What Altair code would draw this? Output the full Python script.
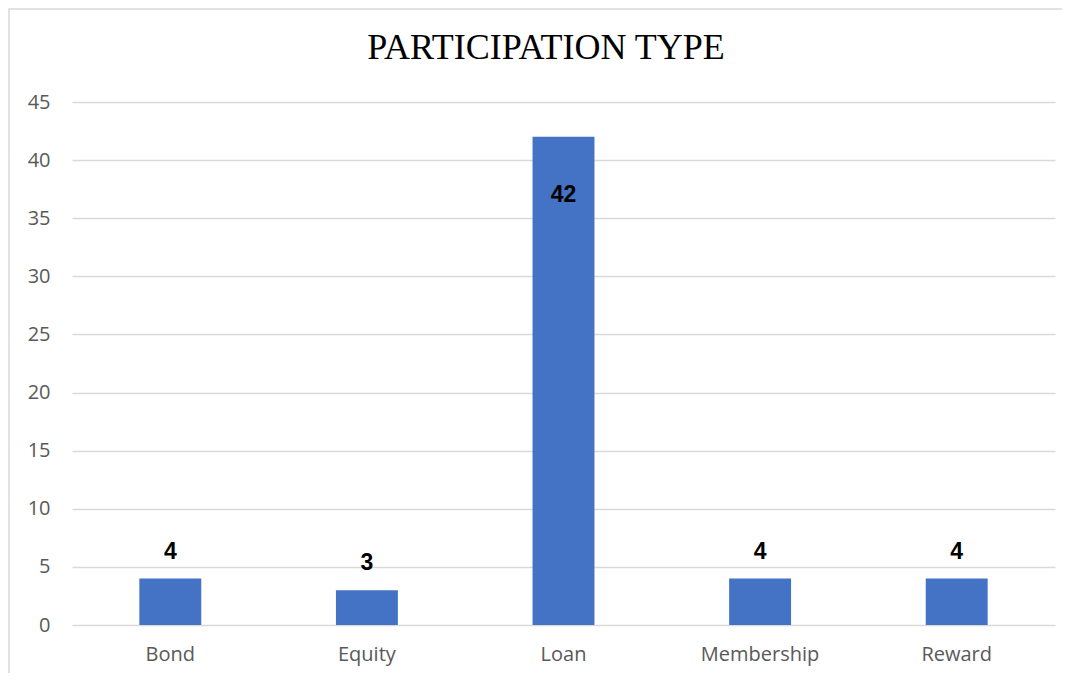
import altair as alt
import pandas as pd

categories = ["Bond", "Equity", "Loan", "Membership", "Reward"]
counts = [4, 3, 42, 4, 4]
title_text = "PARTICIPATION TYPE"

df = pd.DataFrame({"type": categories, "count": counts})

W, H = 983, 523

x_enc = alt.X("type:N", sort=categories, title=None,
              scale=alt.Scale(paddingInner=0.685, paddingOuter=0.3425),
              axis=alt.Axis(labelAngle=0, labelFont="Open Sans", labelFontSize=20,
                            labelColor="#595959", labelPadding=19, ticks=False,
                            domain=False, grid=False))
y_enc = alt.Y("count:Q", title=None,
              scale=alt.Scale(domain=[0, 45], nice=False),
              axis=alt.Axis(values=list(range(0, 50, 5)), labelFont="Open Sans",
                            labelFontSize=20, labelColor="#595959", labelPadding=22,
                            ticks=False, domain=False, grid=True,
                            gridColor="#d9d9d9", gridWidth=1.5))

base = alt.Chart(df)

bars = base.mark_bar(color="#4472C4").encode(x=x_enc, y=y_enc)

outside = base.transform_filter("datum.count < 40").mark_text(
    font="Liberation Sans", fontWeight="bold", fontSize=23, color="black",
    baseline="alphabetic", dy=-20).encode(
    x=alt.X("type:N", sort=categories), y="count:Q", text="count:Q")

inside = base.transform_filter("datum.count >= 40").mark_text(
    font="Liberation Sans", fontWeight="bold", fontSize=23, color="black",
    baseline="alphabetic", dy=65).encode(
    x=alt.X("type:N", sort=categories), y="count:Q", text="count:Q")

title = alt.Chart(pd.DataFrame({"t": [title_text]})).mark_text(
    font="Liberation Serif", fontSize=36, color="black", baseline="alphabetic",
    align="center").encode(x=alt.value(474), y=alt.value(-43), text="t:N")

frame = alt.Chart(pd.DataFrame({"k": [0]})).mark_rect(
    fill=None, stroke="#d9d9d9", strokeWidth=1.5).encode(
    x=alt.value(-63), x2=alt.value(W + 100), y=alt.value(-93), y2=alt.value(H + 200))

chart = alt.layer(frame, title, bars, outside, inside).properties(
    width=W, height=H,
    background="white",
    autosize=alt.AutoSizeParams(type="none"),
    padding={"left": 64, "top": 94, "right": 7, "bottom": 48},
).configure_view(strokeWidth=0)

chart.save("out.html", embed_options={"renderer": "svg", "actions": False})
